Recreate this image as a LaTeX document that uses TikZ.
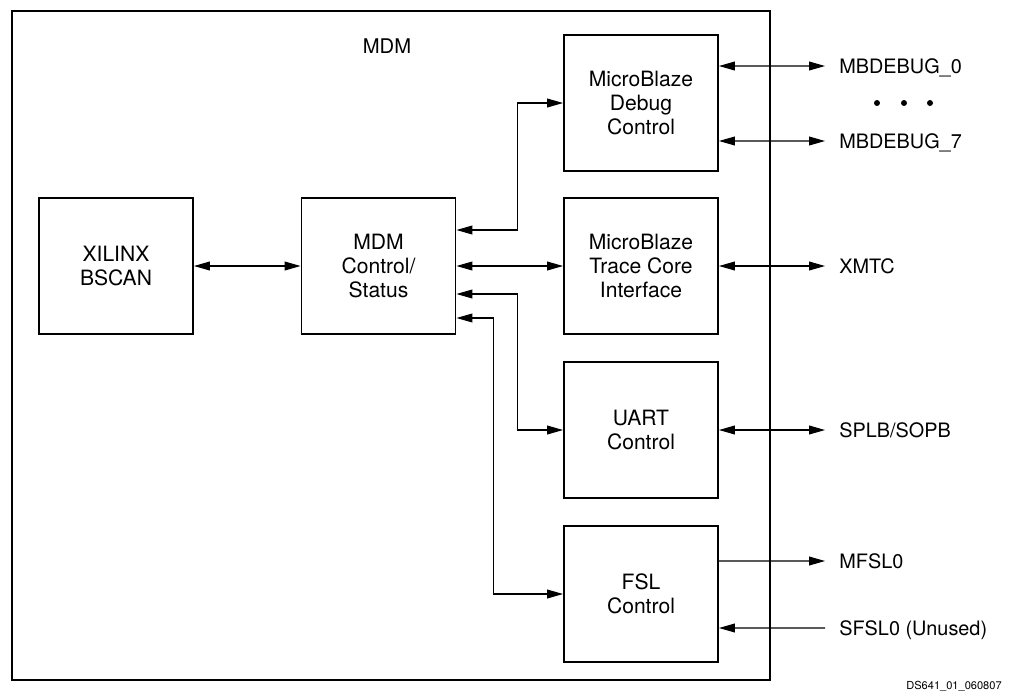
\documentclass[tikz,border=0pt]{standalone}
\usepackage{fontspec}
\setmainfont{TeX Gyre Heros}
\usetikzlibrary{arrows.meta}

\begin{document}
\begin{tikzpicture}[x=0.02cm,y=-0.02cm,
  blk/.style={draw,line width=1.1pt,minimum width=3.08cm,minimum height=2.72cm,
    align=center,font=\fontsize{12}{13.4}\selectfont},
  sig/.style={anchor=west,inner xsep=0.28cm,text height=8pt,text depth=0pt,
    font=\fontsize{11.3}{13}\selectfont},
  lnk/.style={line width=0.6pt,{Triangle[length=9pt,width=5pt]}-{Triangle[length=9pt,width=5pt]}},
  lnkout/.style={line width=0.6pt,-{Triangle[length=9pt,width=5pt]}}]
\useasboundingbox (0,0) rectangle (1015,698);
\draw[line width=1.1pt] (12,11) rectangle (770,680);
\node[font=\fontsize{11.5}{13}\selectfont] (mdm) at (387,46) {MDM};
% blocks
\node[blk] (bscan) at (116,266) {XILINX\\BSCAN};
\node[blk] (ctrl) at (378.5,266) {MDM\\Control/\\Status};
\node[blk] (dbg) at (641,103) {MicroBlaze\\Debug\\Control};
\node[blk] (trace) at (641,266) {MicroBlaze\\Trace Core\\Interface};
\node[blk] (uart) at (641,430) {UART\\Control};
\node[blk] (fsl) at (641,594) {FSL\\Control};
% ports
\node[sig] (mb0) at (825,66) {MBDEBUG\_0};
\node[sig] (mb7) at (825,141) {MBDEBUG\_7};
\node[sig] (xmtc) at (825,266) {XMTC};
\node[sig] (splb) at (825,430) {SPLB/SOPB};
\node[sig] (mfsl) at (825,561) {MFSL0};
\node[sig] (sfsl) at (825,628) {SFSL0 (Unused)};
\foreach \x in {877,904,930}{
 \fill (\x,103) circle[radius=0.06cm];}
% inside
\draw[lnk] (bscan) -- (ctrl);
\draw[lnk] (ctrl) -- (trace);
\draw[lnk] ([yshift=0.72cm]ctrl.east) -- ++(1.22cm,0) |- (dbg.west);
\draw[lnk] ([yshift=-0.56cm]ctrl.east) -- ++(1.22cm,0) |- (uart.west);
\draw[lnk] ([yshift=-1.04cm]ctrl.east) -- ++(0.74cm,0) |- (fsl.west);
% outside
\draw[lnk] ([yshift=0.74cm]dbg.east) -- (mb0.west);
\draw[lnk] ([yshift=-0.76cm]dbg.east) -- (mb7.west);
\draw[lnk] (trace) -- (xmtc.west);
\draw[lnk] (uart) -- (splb.west);
\draw[lnkout] ([yshift=0.66cm]fsl.east) -- (mfsl.west);
\draw[lnkout] (sfsl.west) -- ([yshift=-0.68cm]fsl.east);
\node[font=\fontsize{6.3}{7}\selectfont] (fig) at (954,686) {DS641\_01\_060807};
\end{tikzpicture}
\end{document}
